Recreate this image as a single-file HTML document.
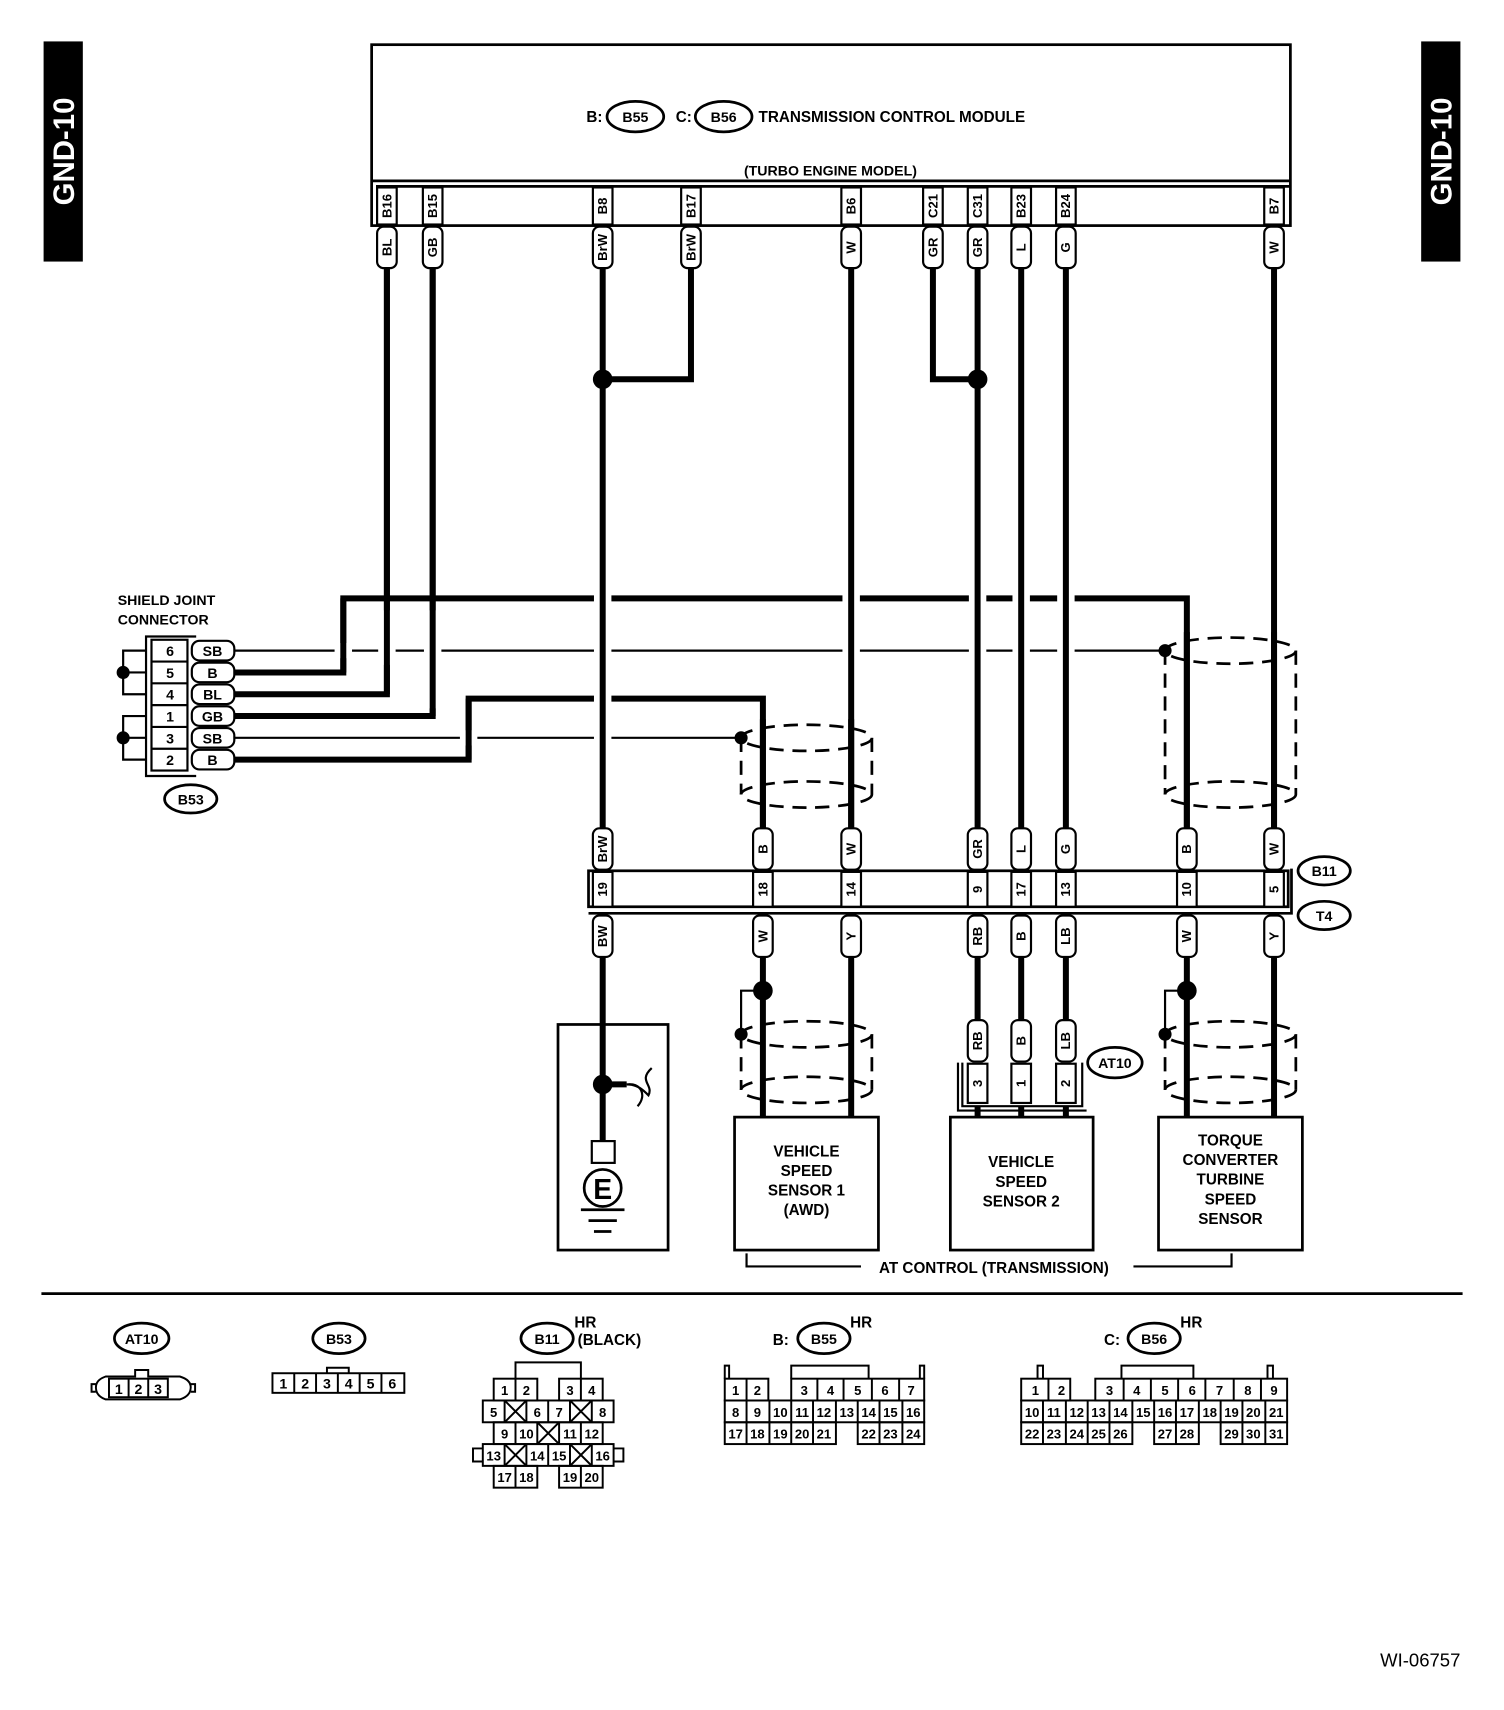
<!DOCTYPE html>
<html><head><meta charset="utf-8"><style>
html,body{margin:0;padding:0;background:#fff}
svg{display:block}
text{font-family:"Liberation Sans",Arial,sans-serif;font-weight:bold;fill:#000}
</style></head><body>
<svg width="1504" height="1710" viewBox="0 0 1380 1569" preserveAspectRatio="none" xmlns="http://www.w3.org/2000/svg">
<rect width="1380" height="1569" fill="#fff"/>
<!-- GND tabs -->
<rect x="40" y="38" width="36" height="202" fill="#000"/>
<text transform="translate(68,139) rotate(-90)" text-anchor="middle" font-size="27" style="fill:#fff">GND-10</text>
<rect x="1304" y="38" width="36" height="202" fill="#000"/>
<text transform="translate(1332,139) rotate(-90)" text-anchor="middle" font-size="27" style="fill:#fff">GND-10</text>

<!-- TCM -->
<g fill="none" stroke="#000" stroke-width="2.5">
<rect x="341" y="41" width="843" height="166" fill="#fff"/>
<line x1="341" y1="166" x2="1184" y2="166"/>
<line x1="345" y1="171" x2="1184" y2="171"/>
</g>
<text x="538" y="112" font-size="14">B:</text>
<ellipse cx="583" cy="107" rx="26" ry="14" fill="none" stroke="#000" stroke-width="2.5"/>
<text x="583" y="112" font-size="13" text-anchor="middle">B55</text>
<text x="620" y="112" font-size="14">C:</text>
<ellipse cx="664" cy="107" rx="26" ry="14" fill="none" stroke="#000" stroke-width="2.5"/>
<text x="664" y="112" font-size="13" text-anchor="middle">B56</text>
<text x="696" y="112" font-size="14">TRANSMISSION CONTROL MODULE</text>
<text x="762" y="161" font-size="13" text-anchor="middle">(TURBO ENGINE MODEL)</text>

<!-- pin cells top -->
<g fill="#fff" stroke="#000" stroke-width="2">
<rect x="346" y="172" width="18" height="34"/><rect x="388" y="172" width="18" height="34"/>
<rect x="544" y="172" width="18" height="34"/><rect x="625" y="172" width="18" height="34"/>
<rect x="772" y="172" width="18" height="34"/><rect x="847" y="172" width="18" height="34"/>
<rect x="888" y="172" width="18" height="34"/><rect x="928" y="172" width="18" height="34"/>
<rect x="969" y="172" width="18" height="34"/><rect x="1160" y="172" width="18" height="34"/>
</g>
<g font-size="12" text-anchor="middle">
<text transform="translate(359,189) rotate(-90)">B16</text>
<text transform="translate(401,189) rotate(-90)">B15</text>
<text transform="translate(557,189) rotate(-90)">B8</text>
<text transform="translate(638,189) rotate(-90)">B17</text>
<text transform="translate(785,189) rotate(-90)">B6</text>
<text transform="translate(860,189) rotate(-90)">C21</text>
<text transform="translate(901,189) rotate(-90)">C31</text>
<text transform="translate(941,189) rotate(-90)">B23</text>
<text transform="translate(982,189) rotate(-90)">B24</text>
<text transform="translate(1173,189) rotate(-90)">B7</text>
</g>

<!-- horizontal shield wires first -->
<g fill="none" stroke="#000" stroke-linejoin="miter">
<polyline points="215,617 315,617 315,549 1089,549 1089,765" stroke-width="5.5"/>
<line x1="215" y1="597" x2="1069" y2="597" stroke-width="2"/>
<line x1="215" y1="677" x2="680" y2="677" stroke-width="2"/>
<polyline points="215,697 430,697 430,641 700,641 700,765" stroke-width="5.5"/>
<polyline points="215,637 355,637 355,245" stroke-width="5.5"/>
<polyline points="215,657 397,657 397,245" stroke-width="5.5"/>
</g>
<!-- vertical wires with white halo -->
<g fill="none" stroke="#fff" stroke-width="16">
<line x1="355" y1="560" x2="355" y2="610"/>
<line x1="397" y1="560" x2="397" y2="650"/>
<line x1="553" y1="540" x2="553" y2="700"/>
<line x1="781" y1="540" x2="781" y2="700"/>
<line x1="897" y1="540" x2="897" y2="610"/>
<line x1="937" y1="540" x2="937" y2="610"/>
<line x1="978" y1="540" x2="978" y2="610"/>
<line x1="1169" y1="540" x2="1169" y2="610"/>
<line x1="315" y1="590" x2="315" y2="604"/>
<line x1="430" y1="670" x2="430" y2="684"/>
</g>
<g fill="none" stroke="#000" stroke-width="5.5">
<polyline points="315,617 315,549"/>
<polyline points="430,697 430,641"/>
<polyline points="355,637 355,245"/>
<polyline points="397,657 397,245"/>
<line x1="553" y1="245" x2="553" y2="765"/>
<polyline points="634,245 634,348 553,348"/>
<line x1="781" y1="245" x2="781" y2="765"/>
<polyline points="856,245 856,348 897,348"/>
<line x1="897" y1="245" x2="897" y2="765"/>
<line x1="937" y1="245" x2="937" y2="765"/>
<line x1="978" y1="245" x2="978" y2="765"/>
<line x1="1169" y1="245" x2="1169" y2="765"/>
</g>
<circle cx="553" cy="348" r="9"/><circle cx="897" cy="348" r="9"/>
<circle cx="1069" cy="597" r="6"/><circle cx="680" cy="677" r="6"/>

<!-- shields upper -->
<g fill="none" stroke="#000" stroke-width="2.5" stroke-dasharray="13,8">
<ellipse cx="740" cy="677" rx="60" ry="12"/>
<ellipse cx="740" cy="729" rx="60" ry="12"/>
<line x1="680" y1="677" x2="680" y2="729"/><line x1="800" y1="677" x2="800" y2="729"/>
<ellipse cx="1129" cy="597" rx="60" ry="12"/>
<ellipse cx="1129" cy="729" rx="60" ry="12"/>
<line x1="1069" y1="597" x2="1069" y2="729"/><line x1="1189" y1="597" x2="1189" y2="729"/>
<ellipse cx="740" cy="949" rx="60" ry="12"/>
<ellipse cx="740" cy="1000" rx="60" ry="12"/>
<line x1="680" y1="949" x2="680" y2="1000"/><line x1="800" y1="949" x2="800" y2="1000"/>
<ellipse cx="1129" cy="949" rx="60" ry="12"/>
<ellipse cx="1129" cy="1000" rx="60" ry="12"/>
<line x1="1069" y1="949" x2="1069" y2="1000"/><line x1="1189" y1="949" x2="1189" y2="1000"/>
</g>
<g stroke="#000" stroke-width="5.5">
<line x1="700" y1="660" x2="700" y2="760"/><line x1="781" y1="660" x2="781" y2="760"/>
<line x1="1089" y1="580" x2="1089" y2="760"/><line x1="1169" y1="580" x2="1169" y2="760"/>
</g>

<!-- shield joint connector -->
<text x="108" y="555" font-size="13">SHIELD JOINT</text>
<text x="108" y="573" font-size="13">CONNECTOR</text>
<g fill="none" stroke="#000" stroke-width="2">
<polyline points="180,584 134,584 134,712 180,712"/>
<rect x="139" y="587" width="33" height="120"/>
<line x1="139" y1="607" x2="172" y2="607"/><line x1="139" y1="627" x2="172" y2="627"/>
<line x1="139" y1="647" x2="172" y2="647"/><line x1="139" y1="667" x2="172" y2="667"/>
<line x1="139" y1="687" x2="172" y2="687"/>
<polyline points="134,597 113,597 113,637 134,637"/>
<line x1="113" y1="617" x2="134" y2="617"/>
<polyline points="134,657 113,657 113,697 134,697"/>
<line x1="113" y1="677" x2="134" y2="677"/>
</g>
<circle cx="113" cy="617" r="6"/><circle cx="113" cy="677" r="6"/>
<g fill="#fff" stroke="#000" stroke-width="2">
<rect x="176" y="588" width="39" height="18" rx="7"/><rect x="176" y="608" width="39" height="18" rx="7"/>
<rect x="176" y="628" width="39" height="18" rx="7"/><rect x="176" y="648" width="39" height="18" rx="7"/>
<rect x="176" y="668" width="39" height="18" rx="7"/><rect x="176" y="688" width="39" height="18" rx="7"/>
</g>
<g font-size="13" text-anchor="middle">
<text x="156" y="602">6</text><text x="156" y="622">5</text><text x="156" y="642">4</text>
<text x="156" y="662">1</text><text x="156" y="682">3</text><text x="156" y="702">2</text>
<text x="195" y="602">SB</text><text x="195" y="622">B</text><text x="195" y="642">BL</text>
<text x="195" y="662">GB</text><text x="195" y="682">SB</text><text x="195" y="702">B</text>
</g>
<ellipse cx="175" cy="733" rx="24" ry="13" fill="none" stroke="#000" stroke-width="2.5"/>
<text x="175" y="738" font-size="13" text-anchor="middle">B53</text>

<!-- B11/T4 connector -->
<g fill="none" stroke="#000" stroke-width="2.5">
<rect x="540" y="799" width="642" height="33"/>
<polyline points="540,838 1185,838 1185,797"/>
</g>
<g fill="#fff" stroke="#000" stroke-width="2">
<rect x="544" y="800" width="18" height="32"/><rect x="691" y="800" width="18" height="32"/>
<rect x="772" y="800" width="18" height="32"/><rect x="888" y="800" width="18" height="32"/>
<rect x="928" y="800" width="18" height="32"/><rect x="969" y="800" width="18" height="32"/>
<rect x="1080" y="800" width="18" height="32"/><rect x="1160" y="800" width="18" height="32"/>
</g>
<g font-size="12" text-anchor="middle">
<text transform="translate(557,816) rotate(-90)">19</text>
<text transform="translate(704,816) rotate(-90)">18</text>
<text transform="translate(785,816) rotate(-90)">14</text>
<text transform="translate(901,816) rotate(-90)">9</text>
<text transform="translate(941,816) rotate(-90)">17</text>
<text transform="translate(982,816) rotate(-90)">13</text>
<text transform="translate(1093,816) rotate(-90)">10</text>
<text transform="translate(1173,816) rotate(-90)">5</text>
</g>
<ellipse cx="1215" cy="799" rx="24" ry="13" fill="none" stroke="#000" stroke-width="2.5"/>
<text x="1215" y="804" font-size="13" text-anchor="middle">B11</text>
<ellipse cx="1215" cy="840" rx="24" ry="13" fill="none" stroke="#000" stroke-width="2.5"/>
<text x="1215" y="845" font-size="13" text-anchor="middle">T4</text>

<!-- lower wires -->
<g fill="none" stroke="#000" stroke-width="5.5">
<line x1="553" y1="876" x2="553" y2="1047"/>
<polyline points="553,995 575,995"/>
<line x1="700" y1="876" x2="700" y2="1025"/>
<line x1="781" y1="876" x2="781" y2="1025"/>
<line x1="897" y1="876" x2="897" y2="937"/>
<line x1="937" y1="876" x2="937" y2="937"/>
<line x1="978" y1="876" x2="978" y2="937"/>
<line x1="897" y1="1015" x2="897" y2="1025"/>
<line x1="937" y1="1015" x2="937" y2="1025"/>
<line x1="978" y1="1015" x2="978" y2="1025"/>
<line x1="1089" y1="876" x2="1089" y2="1025"/>
<line x1="1169" y1="876" x2="1169" y2="1025"/>
</g>
<g fill="none" stroke="#000" stroke-width="2">
<polyline points="700,909 680,909 680,949"/>
<polyline points="1089,909 1069,909 1069,949"/>
</g>
<circle cx="700" cy="909" r="9"/><circle cx="1089" cy="909" r="9"/>
<circle cx="680" cy="949" r="6"/><circle cx="1069" cy="949" r="6"/>

<!-- ground box -->
<rect x="512" y="940" width="101" height="207" fill="none" stroke="#000" stroke-width="2.5"/>
<circle cx="553" cy="995" r="9"/>
<path d="M575,995 C585,995 590,1000 595,1005 C600,995 585,992 598,980 M575,995 C588,993 594,1005 585,1015" fill="none" stroke="#000" stroke-width="2"/>
<rect x="543" y="1047" width="21" height="20" fill="#fff" stroke="#000" stroke-width="2"/>
<circle cx="553" cy="1090" r="17" fill="#fff" stroke="#000" stroke-width="2.5"/>
<text x="553" y="1100" font-size="26" text-anchor="middle">E</text>
<g stroke="#000" stroke-width="2.5">
<line x1="533" y1="1110" x2="573" y2="1110"/><line x1="540" y1="1120" x2="566" y2="1120"/><line x1="545" y1="1130" x2="561" y2="1130"/>
</g>

<!-- AT10 connector -->
<g fill="none" stroke="#000" stroke-width="2">
<polyline points="883,975 883,1015 993,1015 993,975"/>
<polyline points="879,975 879,1019 997,1019"/>
<rect x="888" y="976" width="18" height="36" fill="#fff"/>
<rect x="928" y="976" width="18" height="36" fill="#fff"/>
<rect x="969" y="976" width="18" height="36" fill="#fff"/>
</g>
<g font-size="12" text-anchor="middle">
<text transform="translate(901,994) rotate(-90)">3</text>
<text transform="translate(941,994) rotate(-90)">1</text>
<text transform="translate(982,994) rotate(-90)">2</text>
</g>
<ellipse cx="1023" cy="975" rx="25" ry="14" fill="none" stroke="#000" stroke-width="2.5"/>
<text x="1023" y="980" font-size="13" text-anchor="middle">AT10</text>

<!-- wire tags -->
<g fill="#fff" stroke="#000" stroke-width="2">
<rect x="346" y="208" width="18" height="38" rx="6"/><rect x="388" y="208" width="18" height="38" rx="6"/>
<rect x="544" y="208" width="18" height="38" rx="6"/><rect x="625" y="208" width="18" height="38" rx="6"/>
<rect x="772" y="208" width="18" height="38" rx="6"/><rect x="847" y="208" width="18" height="38" rx="6"/>
<rect x="888" y="208" width="18" height="38" rx="6"/><rect x="928" y="208" width="18" height="38" rx="6"/>
<rect x="969" y="208" width="18" height="38" rx="6"/><rect x="1160" y="208" width="18" height="38" rx="6"/>

<rect x="544" y="760" width="18" height="38" rx="6"/><rect x="691" y="760" width="18" height="38" rx="6"/>
<rect x="772" y="760" width="18" height="38" rx="6"/><rect x="888" y="760" width="18" height="38" rx="6"/>
<rect x="928" y="760" width="18" height="38" rx="6"/><rect x="969" y="760" width="18" height="38" rx="6"/>
<rect x="1080" y="760" width="18" height="38" rx="6"/><rect x="1160" y="760" width="18" height="38" rx="6"/>

<rect x="544" y="840" width="18" height="38" rx="6"/><rect x="691" y="840" width="18" height="38" rx="6"/>
<rect x="772" y="840" width="18" height="38" rx="6"/><rect x="888" y="840" width="18" height="38" rx="6"/>
<rect x="928" y="840" width="18" height="38" rx="6"/><rect x="969" y="840" width="18" height="38" rx="6"/>
<rect x="1080" y="840" width="18" height="38" rx="6"/><rect x="1160" y="840" width="18" height="38" rx="6"/>

<rect x="888" y="936" width="18" height="38" rx="6"/><rect x="928" y="936" width="18" height="38" rx="6"/>
<rect x="969" y="936" width="18" height="38" rx="6"/>
</g>
<g font-size="12" text-anchor="middle">
<text transform="translate(359,227) rotate(-90)">BL</text>
<text transform="translate(401,227) rotate(-90)">GB</text>
<text transform="translate(557,227) rotate(-90)">BrW</text>
<text transform="translate(638,227) rotate(-90)">BrW</text>
<text transform="translate(785,227) rotate(-90)">W</text>
<text transform="translate(860,227) rotate(-90)">GR</text>
<text transform="translate(901,227) rotate(-90)">GR</text>
<text transform="translate(941,227) rotate(-90)">L</text>
<text transform="translate(982,227) rotate(-90)">G</text>
<text transform="translate(1173,227) rotate(-90)">W</text>

<text transform="translate(557,779) rotate(-90)">BrW</text>
<text transform="translate(704,779) rotate(-90)">B</text>
<text transform="translate(785,779) rotate(-90)">W</text>
<text transform="translate(901,779) rotate(-90)">GR</text>
<text transform="translate(941,779) rotate(-90)">L</text>
<text transform="translate(982,779) rotate(-90)">G</text>
<text transform="translate(1093,779) rotate(-90)">B</text>
<text transform="translate(1173,779) rotate(-90)">W</text>

<text transform="translate(557,859) rotate(-90)">BW</text>
<text transform="translate(704,859) rotate(-90)">W</text>
<text transform="translate(785,859) rotate(-90)">Y</text>
<text transform="translate(901,859) rotate(-90)">RB</text>
<text transform="translate(941,859) rotate(-90)">B</text>
<text transform="translate(982,859) rotate(-90)">LB</text>
<text transform="translate(1093,859) rotate(-90)">W</text>
<text transform="translate(1173,859) rotate(-90)">Y</text>

<text transform="translate(901,955) rotate(-90)">RB</text>
<text transform="translate(941,955) rotate(-90)">B</text>
<text transform="translate(982,955) rotate(-90)">LB</text>
</g>

<!-- sensor boxes -->
<g fill="#fff" stroke="#000" stroke-width="2.5">
<rect x="674" y="1025" width="132" height="122"/>
<rect x="872" y="1025" width="131" height="122"/>
<rect x="1063" y="1025" width="132" height="122"/>
</g>
<g font-size="14" text-anchor="middle">
<text x="740" y="1061">VEHICLE</text><text x="740" y="1079">SPEED</text><text x="740" y="1097">SENSOR 1</text><text x="740" y="1115">(AWD)</text>
<text x="937" y="1071">VEHICLE</text><text x="937" y="1089">SPEED</text><text x="937" y="1107">SENSOR 2</text>
<text x="1129" y="1051">TORQUE</text><text x="1129" y="1069">CONVERTER</text><text x="1129" y="1087">TURBINE</text><text x="1129" y="1105">SPEED</text><text x="1129" y="1123">SENSOR</text>
</g>
<g fill="none" stroke="#000" stroke-width="2">
<polyline points="685,1150 685,1162 790,1162"/>
<polyline points="1040,1162 1130,1162 1130,1150"/>
</g>
<text x="912" y="1168" font-size="14" text-anchor="middle">AT CONTROL (TRANSMISSION)</text>

<line x1="38" y1="1187" x2="1342" y2="1187" stroke="#000" stroke-width="2.5"/>

<!-- bottom connectors -->
<g fill="none" stroke="#000" stroke-width="2.5">
<ellipse cx="130" cy="1228" rx="25" ry="14"/>
<ellipse cx="311" cy="1228" rx="24" ry="14"/>
<ellipse cx="502" cy="1228" rx="24" ry="14"/>
<ellipse cx="756" cy="1228" rx="24" ry="14"/>
<ellipse cx="1059" cy="1228" rx="24" ry="14"/>
</g>
<g font-size="13" text-anchor="middle">
<text x="130" y="1233">AT10</text><text x="311" y="1233">B53</text><text x="502" y="1233">B11</text>
<text x="756" y="1233">B55</text><text x="1059" y="1233">B56</text>
</g>
<g font-size="14">
<text x="527" y="1218">HR</text><text x="530" y="1234">(BLACK)</text>
<text x="780" y="1218">HR</text><text x="709" y="1234">B:</text>
<text x="1083" y="1218">HR</text><text x="1013" y="1234">C:</text>
</g>

<g fill="none" stroke="#000" stroke-width="1.8">
<!-- AT10 -->
<path d="M97,1263 H124 V1257 H136 V1263 H165 Q175,1266 175,1273 Q175,1281 165,1284 H97 Q88,1281 88,1273 Q88,1266 97,1263 Z"/>
<path d="M88,1270 H84 V1277 H88 M175,1270 H179 V1277 H175"/>
<rect x="100" y="1265" width="54" height="17"/>
<line x1="118" y1="1265" x2="118" y2="1282"/><line x1="136" y1="1265" x2="136" y2="1282"/>
<!-- B53 -->
<rect x="250" y="1260" width="121" height="18"/>
<line x1="270" y1="1260" x2="270" y2="1278"/><line x1="290" y1="1260" x2="290" y2="1278"/>
<line x1="310" y1="1260" x2="310" y2="1278"/><line x1="330" y1="1260" x2="330" y2="1278"/>
<line x1="350" y1="1260" x2="350" y2="1278"/>
<polyline points="300,1260 300,1255 320,1255 320,1260"/>
<!-- B11 -->
<polyline points="473,1265 473,1250 533,1250 533,1265"/>
<rect x="453" y="1265" width="40" height="20"/><line x1="473" y1="1265" x2="473" y2="1285"/>
<rect x="513" y="1265" width="40" height="20"/><line x1="533" y1="1265" x2="533" y2="1285"/>
<rect x="443" y="1285" width="120" height="20"/>
<line x1="463" y1="1285" x2="463" y2="1305"/><line x1="483" y1="1285" x2="483" y2="1305"/><line x1="503" y1="1285" x2="503" y2="1305"/><line x1="523" y1="1285" x2="523" y2="1305"/><line x1="543" y1="1285" x2="543" y2="1305"/>
<path d="M463,1285 L483,1305 M483,1285 L463,1305 M523,1285 L543,1305 M543,1285 L523,1305"/>
<rect x="453" y="1305" width="100" height="20"/>
<line x1="473" y1="1305" x2="473" y2="1325"/><line x1="493" y1="1305" x2="493" y2="1325"/><line x1="513" y1="1305" x2="513" y2="1325"/><line x1="533" y1="1305" x2="533" y2="1325"/>
<path d="M493,1305 L513,1325 M513,1305 L493,1325"/>
<rect x="443" y="1325" width="120" height="20"/>
<line x1="463" y1="1325" x2="463" y2="1345"/><line x1="483" y1="1325" x2="483" y2="1345"/><line x1="503" y1="1325" x2="503" y2="1345"/><line x1="523" y1="1325" x2="523" y2="1345"/><line x1="543" y1="1325" x2="543" y2="1345"/>
<path d="M463,1325 L483,1345 M483,1325 L463,1345 M523,1325 L543,1345 M543,1325 L523,1345"/>
<path d="M443,1329 H434 V1341 H443 M563,1329 H572 V1341 H563"/>
<rect x="453" y="1345" width="40" height="20"/><line x1="473" y1="1345" x2="473" y2="1365"/>
<rect x="513" y="1345" width="40" height="20"/><line x1="533" y1="1345" x2="533" y2="1365"/>
<!-- B55 -->
<polyline points="665,1265 665,1253 669,1253 669,1265"/><polyline points="844,1265 844,1253 848,1253 848,1265"/>
<polyline points="726,1265 726,1253 797,1253 797,1265"/>
<rect x="665" y="1265" width="40" height="20"/><line x1="685" y1="1265" x2="685" y2="1285"/>
<rect x="726" y="1265" width="122" height="20"/>
<line x1="750" y1="1265" x2="750" y2="1285"/><line x1="774" y1="1265" x2="774" y2="1285"/><line x1="800" y1="1265" x2="800" y2="1285"/><line x1="825" y1="1265" x2="825" y2="1285"/>
<rect x="665" y="1285" width="183" height="20"/>
<rect x="665" y="1305" width="102" height="20"/><rect x="787" y="1305" width="61" height="20"/>
<line x1="685" y1="1285" x2="685" y2="1325"/><line x1="706" y1="1285" x2="706" y2="1325"/><line x1="726" y1="1285" x2="726" y2="1325"/><line x1="746" y1="1285" x2="746" y2="1325"/>
<line x1="767" y1="1285" x2="767" y2="1305"/><line x1="787" y1="1285" x2="787" y2="1305"/><line x1="807" y1="1285" x2="807" y2="1325"/><line x1="828" y1="1285" x2="828" y2="1325"/>
<!-- B56 -->
<polyline points="952,1265 952,1253 957,1253 957,1265"/><polyline points="1163,1265 1163,1253 1168,1253 1168,1265"/>
<polyline points="1029,1265 1029,1253 1095,1253 1095,1265"/>
<rect x="937" y="1265" width="45" height="20"/><line x1="962" y1="1265" x2="962" y2="1285"/>
<rect x="1005" y="1265" width="176" height="20"/>
<line x1="1031" y1="1265" x2="1031" y2="1285"/><line x1="1056" y1="1265" x2="1056" y2="1285"/><line x1="1081" y1="1265" x2="1081" y2="1285"/><line x1="1106" y1="1265" x2="1106" y2="1285"/><line x1="1132" y1="1265" x2="1132" y2="1285"/><line x1="1157" y1="1265" x2="1157" y2="1285"/>
<rect x="937" y="1285" width="244" height="20"/>
<rect x="937" y="1305" width="102" height="20"/><rect x="1059" y="1305" width="41" height="20"/><rect x="1120" y="1305" width="61" height="20"/>
<line x1="957" y1="1285" x2="957" y2="1325"/><line x1="978" y1="1285" x2="978" y2="1325"/><line x1="998" y1="1285" x2="998" y2="1325"/><line x1="1018" y1="1285" x2="1018" y2="1325"/>
<line x1="1039" y1="1285" x2="1039" y2="1305"/><line x1="1059" y1="1285" x2="1059" y2="1305"/><line x1="1079" y1="1285" x2="1079" y2="1325"/><line x1="1100" y1="1285" x2="1100" y2="1305"/>
<line x1="1120" y1="1285" x2="1120" y2="1305"/><line x1="1140" y1="1285" x2="1140" y2="1325"/><line x1="1161" y1="1285" x2="1161" y2="1325"/>
</g>
<g font-size="13" text-anchor="middle" style="font-weight:normal">
<text x="109" y="1279" font-weight="normal">1</text><text x="127" y="1279" font-weight="normal">2</text><text x="145" y="1279" font-weight="normal">3</text>
<text x="260" y="1274" font-weight="normal">1</text><text x="280" y="1274" font-weight="normal">2</text><text x="300" y="1274" font-weight="normal">3</text><text x="320" y="1274" font-weight="normal">4</text><text x="340" y="1274" font-weight="normal">5</text><text x="360" y="1274" font-weight="normal">6</text>
</g>
<g font-size="12" text-anchor="middle" font-weight="normal" style="font-weight:normal">
<text x="463" y="1280">1</text><text x="483" y="1280">2</text><text x="523" y="1280">3</text><text x="543" y="1280">4</text>
<text x="453" y="1300">5</text><text x="493" y="1300">6</text><text x="513" y="1300">7</text><text x="553" y="1300">8</text>
<text x="463" y="1320">9</text><text x="483" y="1320">10</text><text x="523" y="1320">11</text><text x="543" y="1320">12</text>
<text x="453" y="1340">13</text><text x="493" y="1340">14</text><text x="513" y="1340">15</text><text x="553" y="1340">16</text>
<text x="463" y="1360">17</text><text x="483" y="1360">18</text><text x="523" y="1360">19</text><text x="543" y="1360">20</text>

<text x="675" y="1280">1</text><text x="695" y="1280">2</text><text x="738" y="1280">3</text><text x="762" y="1280">4</text><text x="787" y="1280">5</text><text x="812" y="1280">6</text><text x="836" y="1280">7</text>
<text x="675" y="1300">8</text><text x="695" y="1300">9</text><text x="716" y="1300">10</text><text x="736" y="1300">11</text><text x="756" y="1300">12</text><text x="777" y="1300">13</text><text x="797" y="1300">14</text><text x="817" y="1300">15</text><text x="838" y="1300">16</text>
<text x="675" y="1320">17</text><text x="695" y="1320">18</text><text x="716" y="1320">19</text><text x="736" y="1320">20</text><text x="756" y="1320">21</text><text x="797" y="1320">22</text><text x="817" y="1320">23</text><text x="838" y="1320">24</text>

<text x="950" y="1280">1</text><text x="974" y="1280">2</text><text x="1018" y="1280">3</text><text x="1043" y="1280">4</text><text x="1069" y="1280">5</text><text x="1094" y="1280">6</text><text x="1119" y="1280">7</text><text x="1145" y="1280">8</text><text x="1169" y="1280">9</text>
<text x="947" y="1300">10</text><text x="967" y="1300">11</text><text x="988" y="1300">12</text><text x="1008" y="1300">13</text><text x="1028" y="1300">14</text><text x="1049" y="1300">15</text><text x="1069" y="1300">16</text><text x="1089" y="1300">17</text><text x="1110" y="1300">18</text><text x="1130" y="1300">19</text><text x="1150" y="1300">20</text><text x="1171" y="1300">21</text>
<text x="947" y="1320">22</text><text x="967" y="1320">23</text><text x="988" y="1320">24</text><text x="1008" y="1320">25</text><text x="1028" y="1320">26</text><text x="1069" y="1320">27</text><text x="1089" y="1320">28</text><text x="1130" y="1320">29</text><text x="1150" y="1320">30</text><text x="1171" y="1320">31</text>
</g>

<text x="1340" y="1529" font-size="17" text-anchor="end" style="font-weight:normal">WI-06757</text>
</svg>
</body></html>
